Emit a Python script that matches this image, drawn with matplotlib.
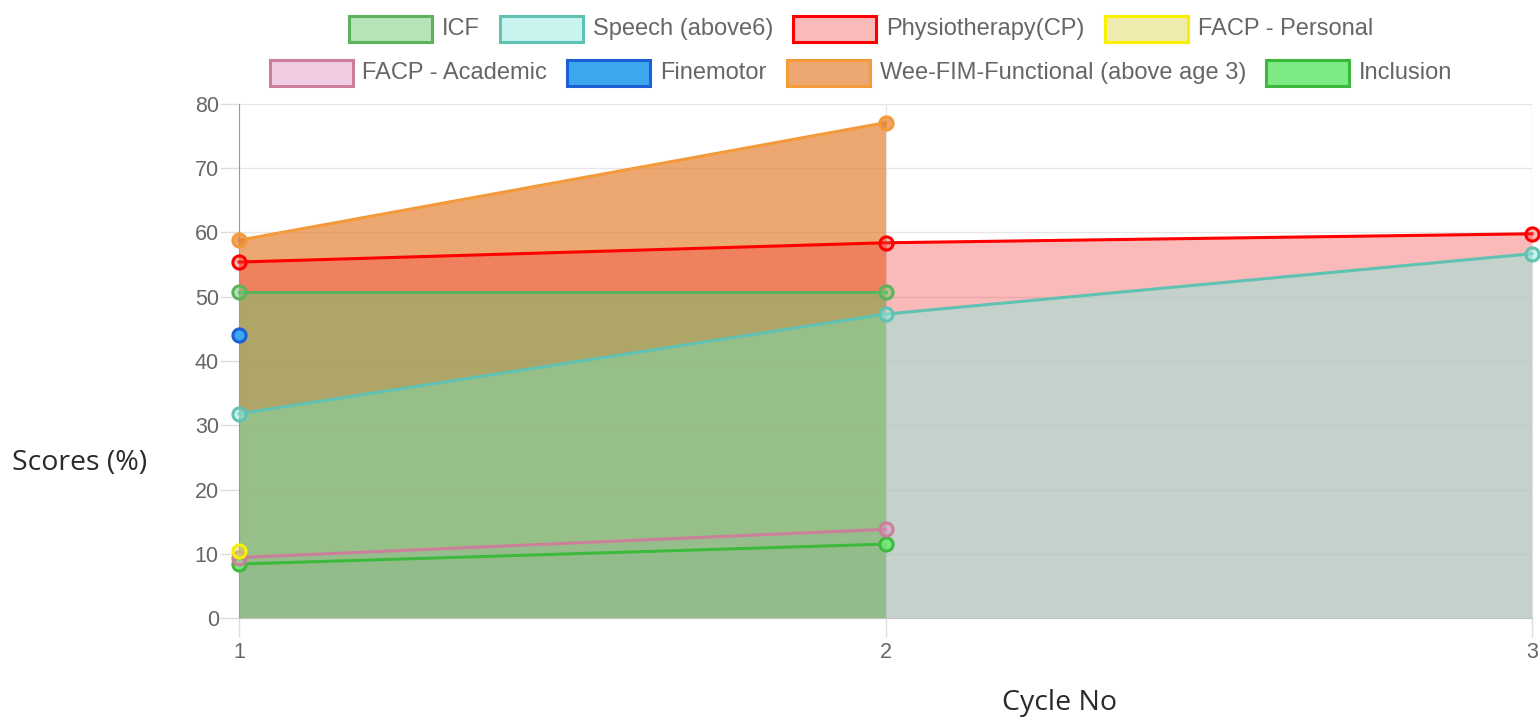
import matplotlib
matplotlib.use('Agg')
import matplotlib.pyplot as plt
from matplotlib.patches import Rectangle

# data
cycles = [1, 2, 3]
labels = ['ICF', 'Speech (above6)', 'Physiotherapy(CP)', 'FACP - Personal',
          'FACP - Academic', 'Finemotor', 'Wee-FIM-Functional (above age 3)', 'Inclusion']
icf = [50.8, 50.8]
speech = [31.8, 47.3, 56.7]
physio = [55.4, 58.4, 59.8]
personal = [10.5]
academic = [9.4, 13.8]
finemotor = [44.1]
weefim = [58.8, 77.1]
inclusion = [8.4, 11.5]
series = [icf, speech, physio, personal, academic, finemotor, weefim, inclusion]

line_colors = ['#5db35d', '#5fc2b2', '#ff0000', '#f8f000',
               '#cc7f9a', '#1f5fd6', '#f39a3a', '#3dba3d']
fill_colors = [(0.44, 0.79, 0.45, 0.5), (0.57, 0.92, 0.87, 0.5), (0.96, 0.25, 0.25, 0.36),
               (0.88, 0.85, 0.37, 0.5), (0.88, 0.57, 0.76, 0.45), (0.23, 0.66, 0.94, 1.0),
               (0.90, 0.51, 0.20, 0.7), (0.44, 0.91, 0.47, 0.9)]

W, H = 1540, 723
fig = plt.figure(figsize=(W / 100, H / 100), dpi=100)
ax = fig.add_axes([239 / W, (H - 618) / H, (1532 - 239) / W, (618 - 104) / H])

n = len(series)
# fills first (last dataset at the bottom), then lines and points
for i in reversed(range(n)):
    ys = series[i]
    xs = cycles[:len(ys)]
    if len(ys) > 1:
        ax.fill_between(xs, ys, 0, color=fill_colors[i], lw=0, zorder=1 + (n - i) * 0.01)
for i in reversed(range(n)):
    ys = series[i]
    xs = cycles[:len(ys)]
    ax.plot(xs, ys, color=line_colors[i], lw=2.2, marker='o', ms=9.5,
            mfc=fill_colors[i], mec=line_colors[i], mew=2.2,
            zorder=3 + (n - i) * 0.1, clip_on=False)

ax.set_xlim(1, 3)
ax.set_ylim(0, 80)
ax.set_xticks(cycles)
ax.set_yticks(range(0, 81, 10))
ax.grid(True, color='#e6e6e6', lw=1, zorder=0)
ax.set_axisbelow(True)
for s in ['top', 'right']:
    ax.spines[s].set_visible(False)
ax.spines['left'].set_color('#999999')
ax.spines['bottom'].set_color('#c0c0c0')
ax.tick_params(axis='both', length=13.5, width=1, color='#dddddd',
               labelcolor='#666666', labelsize=15.5)
ax.tick_params(axis='y', pad=1)
ax.tick_params(axis='x', pad=4)
for lab in ax.get_xticklabels() + ax.get_yticklabels():
    lab.set_family('Liberation Sans')

fig.text(80 / W, 1 - 463 / H, 'Scores (%)', ha='center', va='center',
         fontsize=20.5, family='Open Sans', color='#2a2a2a')
fig.text(1059 / W, 1 - 703 / H, 'Cycle No', ha='center', va='center',
         fontsize=20.5, family='Open Sans', color='#2a2a2a')

# legend drawn by hand, two centred rows like the original
rows = [labels[:4], labels[4:]]
row_y = [29, 73]
box_w, box_h = 83, 26
renderer = fig.canvas.get_renderer()
k = 0
for r, row in enumerate(rows):
    widths = []
    for lab in row:
        t = fig.text(0, 0, lab, fontsize=17, family='Liberation Sans')
        widths.append(t.get_window_extent(renderer).width)
        t.remove()
    total = sum(box_w + 10 + w for w in widths) + 20 * (len(row) - 1)
    x = 861 - total / 2
    for lab, w in zip(row, widths):
        fig.add_artist(Rectangle((x / W, 1 - (row_y[r] + box_h / 2) / H), box_w / W, box_h / H,
                                 transform=fig.transFigure, fc=fill_colors[k],
                                 ec=line_colors[k], lw=2.2))
        fig.text((x + box_w + 10) / W, 1 - row_y[r] / H, lab, ha='left', va='center',
                 fontsize=17, family='Liberation Sans', color='#666666')
        x += box_w + 10 + w + 20
        k += 1

fig.savefig('out.png', dpi=100)
